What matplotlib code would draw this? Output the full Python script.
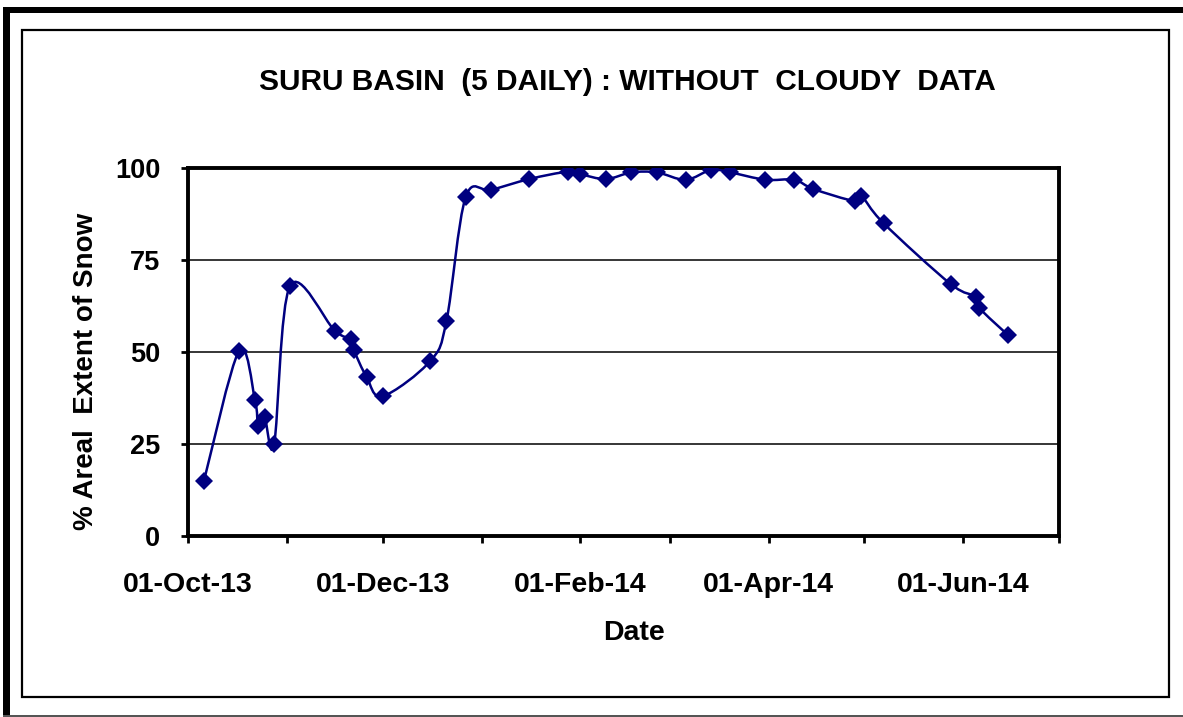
import numpy as np
import matplotlib
matplotlib.use("Agg")
import matplotlib.pyplot as plt
import matplotlib.dates as mdates
from matplotlib.path import Path
from matplotlib.patches import PathPatch, Rectangle

# 5-daily snow cover observations (cloud-free scenes only)
obs_dates = [
    "2013-10-06", "2013-10-17", "2013-10-22", "2013-10-23", "2013-10-25",
    "2013-10-28", "2013-11-02", "2013-11-16", "2013-11-21", "2013-11-22",
    "2013-11-26", "2013-12-01", "2013-12-16", "2013-12-21", "2013-12-27",
    "2014-01-04", "2014-01-16", "2014-01-28", "2014-02-01", "2014-02-09",
    "2014-02-17", "2014-02-25", "2014-03-06", "2014-03-14", "2014-03-20",
    "2014-03-31", "2014-04-09", "2014-04-15", "2014-04-28", "2014-04-30",
    "2014-05-07", "2014-05-28", "2014-06-05", "2014-06-06", "2014-06-15",
]
snow_pct = [
    15.0, 50.3, 37.0, 30.0, 32.4,
    25.0, 68.0, 55.8, 53.5, 50.5,
    43.2, 38.0, 47.6, 58.4, 92.0,
    94.0, 97.0, 99.0, 98.3, 97.0,
    98.8, 98.8, 96.8, 99.5, 98.8,
    96.8, 96.8, 94.3, 91.0, 92.5,
    85.0, 68.5, 65.0, 62.0, 54.6,
]
y_ticks = [0, 25, 50, 75, 100]

W, H = 1183, 717
navy = "#000080"
FONT = "Liberation Sans"


def smooth_path(xs, ys):
    # Bezier through every point, tangents from neighbouring points (1/6 rule)
    pts = np.column_stack([xs, ys])
    n = len(pts)
    verts = [pts[0]]
    codes = [Path.MOVETO]
    for i in range(n - 1):
        p0 = pts[max(i - 1, 0)]
        p1 = pts[i]
        p2 = pts[i + 1]
        p3 = pts[min(i + 2, n - 1)]
        verts += [p1 + (p2 - p0) / 6.0, p2 - (p3 - p1) / 6.0, p2]
        codes += [Path.CURVE4] * 3
    return Path(verts, codes)


def px_rect(x0, y0, x1, y1, **kw):
    # rectangle given in pixel coords measured from the top-left corner
    return Rectangle((x0 / W, 1 - y1 / H), (x1 - x0) / W, (y1 - y0) / H,
                     transform=fig.transFigure, **kw)


fig = plt.figure(figsize=(W / 100, H / 100), dpi=100)

# outer and inner frames
fig.add_artist(px_rect(3, 7, W, 13, facecolor="black", edgecolor="none"))
fig.add_artist(px_rect(3, 7, 10, H, facecolor="black", edgecolor="none"))
fig.add_artist(px_rect(3, 715, W, 716.5, facecolor="#555555", edgecolor="none"))
fig.add_artist(px_rect(22, 30, 1169, 697, facecolor="none",
                       edgecolor="black", linewidth=1.6))

ax = fig.add_axes([188 / W, 1 - 536 / H, 871 / W, 368 / H])

x = mdates.datestr2num(obs_dates)
y = np.array(snow_pct)

ax.add_patch(PathPatch(smooth_path(x, y), facecolor="none",
                       edgecolor=navy, linewidth=1.8, zorder=3))
ax.plot(x, y, linestyle="none", marker="D", markersize=9.5,
        color=navy, markeredgewidth=0, zorder=4)

ax.set_xlim(mdates.datestr2num("2013-10-01"), mdates.datestr2num("2014-07-01"))
ax.set_ylim(0, 100)

ax.xaxis.set_major_locator(mdates.MonthLocator(bymonth=[10, 12, 2, 4, 6]))
ax.xaxis.set_minor_locator(mdates.MonthLocator())
ax.xaxis.set_major_formatter(mdates.DateFormatter("%d-%b-%y"))
ax.set_yticks(y_ticks)

for y_val in y_ticks[1:-1]:
    ax.axhline(y_val, color="black", linewidth=1.1, zorder=1)

for side in ["left", "bottom", "top", "right"]:
    ax.spines[side].set_linewidth(2.8)
    ax.spines[side].set_color("black")

ax.tick_params(axis="both", which="both", direction="out", length=5,
               width=2, color="black")
ax.tick_params(axis="y", pad=15)
ax.tick_params(axis="x", which="major", pad=21)

for lab in ax.get_xticklabels():
    lab.set_fontfamily(FONT)
    lab.set_fontweight("bold")
    lab.set_fontsize(20.5)
for lab in ax.get_yticklabels():
    lab.set_fontfamily(FONT)
    lab.set_fontweight("bold")
    lab.set_fontsize(19.5)

fig.text(627 / W, 1 - 82 / H, "SURU BASIN  (5 DAILY) : WITHOUT  CLOUDY  DATA",
         ha="center", va="center", fontfamily=FONT, fontweight="bold",
         fontsize=21.5)
fig.text(634 / W, 1 - 633 / H, "Date", ha="center", va="center",
         fontfamily=FONT, fontweight="bold", fontsize=20.5)
fig.text(86 / W, 1 - 371 / H, "% Areal  Extent of Snow", ha="center",
         va="center", rotation=90, fontfamily=FONT, fontweight="bold",
         fontsize=20)

fig.savefig("out.png", dpi=100)
